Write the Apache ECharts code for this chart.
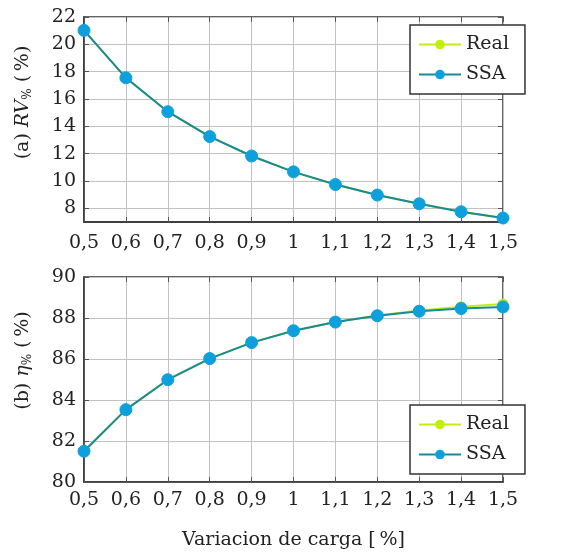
<!DOCTYPE html>
<html lang="es">
<head>
    <meta charset="UTF-8">
    <script src="https://cdn.jsdelivr.net/npm/echarts@6/dist/echarts.min.js"></script>
    <title>RV y eficiencia</title>
    <style>
        html, body { margin: 0; padding: 0; background: #fff; }
        #chart { width: 563px; height: 555px; }
    </style>
</head>
<body>
<div id="chart"></div>
<script>
    // datos
    var loads = ['0,5', '0,6', '0,7', '0,8', '0,9', '1', '1,1', '1,2', '1,3', '1,4', '1,5'];
    var rvReal = [21.02, 17.55, 15.07, 13.25, 11.83, 10.67, 9.74, 8.97, 8.33, 7.75, 7.29];
    var rvSsa = [21.02, 17.55, 15.07, 13.25, 11.83, 10.67, 9.74, 8.97, 8.33, 7.75, 7.29];
    var etaReal = [81.50, 83.53, 84.99, 86.02, 86.80, 87.38, 87.80, 88.12, 88.37, 88.55, 88.68];
    var etaSsa = [81.50, 83.53, 84.99, 86.02, 86.80, 87.38, 87.80, 88.11, 88.33, 88.46, 88.54];
    var rvTicks = [8, 10, 12, 14, 16, 18, 20, 22];

    var font = 'DejaVu Serif';
    var dark = '#222';
    var frame = '#333';
    var gridGray = '#c2c2c2';
    var realColor = '#c4ee10';
    var ssaLine = '#16899c';
    var ssaDot = '#0ea0dc';

    var myChart = echarts.init(document.getElementById('chart'));

    var tickStyle = {inside: true, length: 5, lineStyle: {color: '#555'}};

    function xAxisFor(gridIndex, margin, withName) {
        var ax = {
            type: 'category', gridIndex: gridIndex, data: loads, boundaryGap: false,
            axisLine: {lineStyle: {color: frame, width: 1.5}},
            axisTick: tickStyle,
            axisLabel: {color: dark, fontFamily: font, fontSize: 19, margin: margin, interval: 0},
            splitLine: {show: true, lineStyle: {color: gridGray, width: 1}}
        };
        if (withName) {
            ax.name = 'Variacion de carga [\u2009%]';
            ax.nameLocation = 'middle';
            ax.nameGap = 49;
            ax.nameTextStyle = {color: dark, fontFamily: font, fontSize: 19};
        }
        return ax;
    }

    // ejes espejo arriba / derecha, solo marcas
    function topAxis(gridIndex) {
        return {
            type: 'category', gridIndex: gridIndex, data: loads, boundaryGap: false, position: 'top',
            axisLine: {show: false}, axisLabel: {show: false}, splitLine: {show: false},
            axisTick: tickStyle
        };
    }

    function rightAxis(gridIndex, min, max, interval, ticks) {
        var t = Object.assign({}, tickStyle, {show: true});
        if (ticks) t.customValues = ticks;
        return {
            type: 'value', gridIndex: gridIndex, min: min, max: max, interval: interval, position: 'right',
            axisLine: {show: false}, axisLabel: {show: false}, splitLine: {show: false},
            axisTick: t
        };
    }

    function nameRich() {
        return {
            i: {fontFamily: font, fontSize: 19, fontStyle: 'italic', color: dark},
            s: {fontFamily: font, fontSize: 12, color: dark, padding: [10, 0, 0, 0]}
        };
    }

    var legendBase = {
        orient: 'vertical', left: 410, itemWidth: 42, itemHeight: 12, itemGap: 11,
        borderColor: frame, borderWidth: 1.5, backgroundColor: '#fff', borderRadius: 0,
        padding: [10, 16, 10, 8],
        textStyle: {color: dark, fontFamily: font, fontSize: 19},
        data: ['Real', 'SSA']
    };

    var option = {
        animation: false,
        backgroundColor: '#fff',
        grid: [
            {left: 84, right: 60, top: 17, height: 205, show: true, borderColor: frame, borderWidth: 1.5},
            {left: 84, right: 60, top: 277, height: 205, show: true, borderColor: frame, borderWidth: 1.5}
        ],
        legend: [
            Object.assign({}, legendBase, {top: 25}),
            Object.assign({}, legendBase, {top: 405})
        ],
        xAxis: [xAxisFor(0, 12, false), xAxisFor(1, 9, true), topAxis(0), topAxis(1)],
        yAxis: [
            {
                type: 'value', gridIndex: 0, min: 7, max: 22, interval: 1,
                name: '(a) {i|RV}{s|%} (\u2009%)', nameLocation: 'middle', nameGap: 50, nameRotate: 90,
                nameTextStyle: {color: dark, fontFamily: font, fontSize: 19, rich: nameRich(), padding: [0, 0, 0, 34]},
                axisLine: {show: true, lineStyle: {color: frame, width: 1.5}},
                axisTick: Object.assign({}, tickStyle, {show: true, customValues: rvTicks}),
                axisLabel: {color: dark, fontFamily: font, fontSize: 19, margin: 8, customValues: rvTicks},
                splitLine: {show: true, lineStyle: {color: gridGray, width: 1}}
            },
            {
                type: 'value', gridIndex: 1, min: 80, max: 90, interval: 2,
                name: '(b) {i|η}{s|%} (\u2009%)', nameLocation: 'middle', nameGap: 50, nameRotate: 90,
                nameTextStyle: {color: dark, fontFamily: font, fontSize: 19, rich: nameRich(), padding: [0, 0, 0, 38]},
                axisLine: {show: true, lineStyle: {color: frame, width: 1.5}},
                axisTick: Object.assign({}, tickStyle, {show: true}),
                axisLabel: {color: dark, fontFamily: font, fontSize: 19, margin: 8},
                splitLine: {show: true, lineStyle: {color: gridGray, width: 1}}
            },
            rightAxis(0, 7, 22, 1, rvTicks),
            rightAxis(1, 80, 90, 2, null)
        ],
        series: [
            {
                name: 'Real', type: 'line', xAxisIndex: 0, yAxisIndex: 0, data: rvReal,
                symbol: 'circle', symbolSize: 11,
                lineStyle: {color: realColor, width: 2}, itemStyle: {color: realColor}
            },
            {
                name: 'SSA', type: 'line', xAxisIndex: 0, yAxisIndex: 0, data: rvSsa,
                symbol: 'circle', symbolSize: 12,
                lineStyle: {color: ssaLine, width: 2}, itemStyle: {color: ssaDot, borderColor: ssaDot}
            },
            {
                name: 'Real', type: 'line', xAxisIndex: 1, yAxisIndex: 1, data: etaReal,
                symbol: 'circle', symbolSize: 11,
                lineStyle: {color: realColor, width: 2}, itemStyle: {color: realColor}
            },
            {
                name: 'SSA', type: 'line', xAxisIndex: 1, yAxisIndex: 1, data: etaSsa,
                symbol: 'circle', symbolSize: 12,
                lineStyle: {color: ssaLine, width: 2}, itemStyle: {color: ssaDot, borderColor: ssaDot}
            }
        ]
    };

    myChart.setOption(option);
</script>
</body>
</html>
